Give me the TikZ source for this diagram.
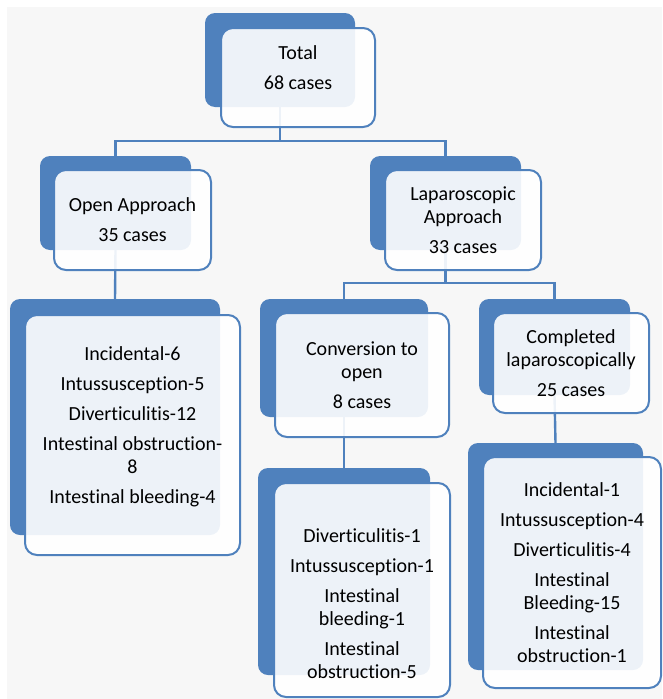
\documentclass[tikz,border=0pt]{standalone}
\usepackage{fontspec}
\setmainfont{Carlito}[Ligatures={NoCommon}]
\usepackage{xcolor}
\definecolor{boxblue}{HTML}{4F81BD}
\definecolor{pagegray}{HTML}{F7F7F7}
\tikzset{
  backbox/.style={rectangle, rounded corners=10pt, fill=boxblue, inner sep=0pt},
  frontbox/.style={rectangle, rounded corners=12pt, draw=boxblue, line width=2pt,
    fill=white, fill opacity=0.9, inner sep=0pt},
  casetext/.style={align=center, inner sep=0pt, font=\fontsize{20}{23}\selectfont},
  link/.style={draw=boxblue, line width=2.4pt}
}

\begin{document}
\begin{tikzpicture}[x=1pt, y=-1pt]
\useasboundingbox (0,0) rectangle (662,699);
\fill[pagegray] (7,7) rectangle (662,699);
\node[backbox, minimum width=150pt, minimum height=94pt] (totalb) at (280,60) {};
\node[backbox, minimum width=151pt, minimum height=94pt] (openb) at (115.5,203) {};
\node[backbox, minimum width=151pt, minimum height=94pt] (lapb) at (445.5,203) {};
\node[backbox, minimum width=168pt, minimum height=118pt] (convb) at (344,358) {};
\node[backbox, minimum width=151pt, minimum height=96pt] (compb) at (554.5,347) {};
\node[backbox, minimum width=210pt, minimum height=236pt] (opendetb) at (115,417) {};
\node[backbox, minimum width=172pt, minimum height=207pt] (convdetb) at (344,571.5) {};
\node[backbox, minimum width=175pt, minimum height=227pt] (compdetb) at (555.5,556.5) {};
\coordinate (bus1) at (280,141);
\coordinate (bus2) at (445.5,283);
\draw[link] (totalb.south) -- (bus1) -| (openb.north);
\draw[link] (bus1) -| (lapb.north);
\draw[link] (openb.south) -- (opendetb.north);
\draw[link] (lapb.south) -- (bus2) -| (convb.north);
\draw[link] (bus2) -| (compb.north);
\draw[link] (convb.south) -- (convdetb.north);
\draw[link] (compb.south) -- (compdetb.north);
\node[frontbox, minimum width=154pt, minimum height=99pt] (total) at (298,77.5) {};
\node[frontbox, minimum width=157pt, minimum height=100pt] (open) at (132.5,220) {};
\node[frontbox, minimum width=156pt, minimum height=100pt] (lap) at (463,220) {};
\node[frontbox, minimum width=174pt, minimum height=124pt] (conv) at (362,375) {};
\node[frontbox, minimum width=156pt, minimum height=100pt] (comp) at (571,363) {};
\node[frontbox, minimum width=215pt, minimum height=240pt] (opendet) at (132.5,435) {};
\node[frontbox, minimum width=176pt, minimum height=214pt] (convdet) at (362,590) {};
\node[frontbox, minimum width=178pt, minimum height=231pt] (compdet) at (572,572.5) {};
\node[casetext, yshift=10pt] (totaltxt) at (total) {Total\\[7pt]68 cases};
\node[casetext] (opentxt) at (open) {Open Approach\\[7pt]35 cases};
\node[casetext] (laptxt) at (lap) {Laparoscopic\\Approach\\[7pt]33 cases};
\node[casetext] (convtxt) at (conv) {Conversion to\\open\\[7pt]8 cases};
\node[casetext] (comptxt) at (comp) {Completed\\laparoscopically\\[7pt]25 cases};
\node[casetext, yshift=8pt] (opendettxt) at (opendet)
  {Incidental-6\\[7pt]Intussusception-5\\[7pt]Diverticulitis-12\\[7pt]Intestinal obstruction-\\8\\[7pt]Intestinal bleeding-4};
\node[casetext, yshift=-14pt] (convdettxt) at (convdet)
  {Diverticulitis-1\\[7pt]Intussusception-1\\[7pt]Intestinal\\bleeding-1\\[7pt]Intestinal\\obstruction-5};
\node[casetext] (compdettxt) at (compdet)
  {Incidental-1\\[7pt]Intussusception-4\\[7pt]Diverticulitis-4\\[7pt]Intestinal\\Bleeding-15\\[7pt]Intestinal\\obstruction-1};
\end{tikzpicture}
\end{document}
